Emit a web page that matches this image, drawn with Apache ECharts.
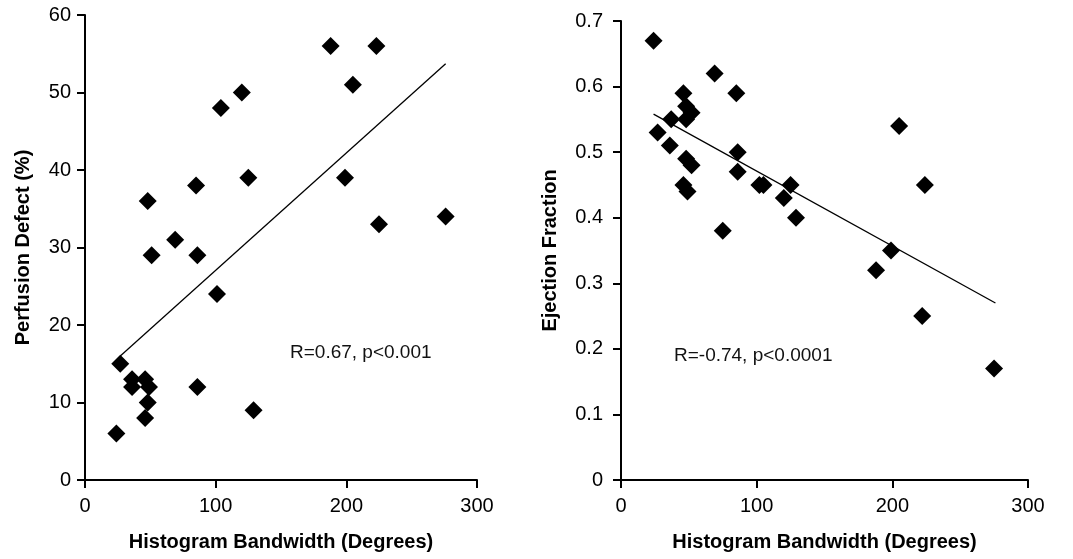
<!DOCTYPE html>
<html>
<head>
<meta charset="utf-8">
<script src="https://cdn.jsdelivr.net/npm/echarts@6/dist/echarts.min.js"></script>
<style>
  html, body { margin: 0; padding: 0; background: #fff; }
  #main { width: 1073px; height: 559px; }
</style>
</head>
<body>
<div id="main"></div>
<script>
  // left panel: bandwidth vs perfusion defect
  var perfusionPoints = [
    [188, 56], [223, 56], [205, 51], [104, 48], [120, 50], [85, 38], [125, 39],
    [48, 36], [199, 39], [225, 33], [276, 34], [69, 31], [51, 29], [86, 29],
    [101, 24], [27, 15], [36, 13], [36, 12], [46, 13], [49, 12], [48, 10],
    [46, 8], [24, 6], [86, 12], [129, 9]
  ];
  var perfusionTrend = [[27, 16], [276, 53.7]];

  // right panel: bandwidth vs ejection fraction
  var ejectionPoints = [
    [24, 0.67], [69, 0.62], [85, 0.59], [46, 0.59], [48, 0.57], [52, 0.56],
    [48, 0.55], [37, 0.55], [27, 0.53], [36, 0.51], [86, 0.50], [48, 0.49],
    [52, 0.48], [86, 0.47], [46, 0.45], [49, 0.44], [102, 0.45], [105, 0.45],
    [125, 0.45], [120, 0.43], [129, 0.40], [75, 0.38], [205, 0.54], [224, 0.45],
    [199, 0.35], [188, 0.32], [222, 0.25], [275, 0.17]
  ];
  var ejectionTrend = [[24, 0.558], [276, 0.27]];

  var xTitle = 'Histogram Bandwidth (Degrees)';
  var font = 'Liberation Sans, Arial, sans-serif';

  function xAxisFor(idx) {
    return {
      gridIndex: idx, type: 'value', min: 0, max: 300, interval: 100,
      name: xTitle, nameLocation: 'middle', nameGap: 52,
      nameTextStyle: { fontFamily: font, fontSize: 20, fontWeight: 'bold', color: '#000' },
      axisLine: { lineStyle: { color: '#000', width: 2 } },
      axisTick: { length: 8, lineStyle: { color: '#000', width: 2 } },
      axisLabel: { margin: 16, fontFamily: font, fontSize: 20, color: '#000' },
      splitLine: { show: false }
    };
  }

  function yAxisFor(idx, name, max, step, gap, margin) {
    return {
      gridIndex: idx, type: 'value', min: 0, max: max, interval: step,
      name: name, nameLocation: 'middle', nameGap: gap,
      nameTextStyle: { fontFamily: font, fontSize: 20, fontWeight: 'bold', color: '#000' },
      axisLine: { show: true, lineStyle: { color: '#000', width: 2 } },
      axisTick: { show: true, length: 8, lineStyle: { color: '#000', width: 2 } },
      axisLabel: { margin: margin, fontFamily: font, fontSize: 20, color: '#000' },
      splitLine: { show: false }
    };
  }

  var chart = echarts.init(document.getElementById('main'));
  chart.setOption({
    animation: false,
    backgroundColor: '#fff',
    grid: [
      { left: 85, top: 15, width: 392, height: 465 },
      { left: 621, top: 21, width: 407, height: 459 }
    ],
    xAxis: [xAxisFor(0), xAxisFor(1)],
    yAxis: [
      yAxisFor(0, 'Perfusion Defect (%)', 60, 10, 52, 14),
      yAxisFor(1, 'Ejection Fraction', 0.7, 0.1, 61, 18)
    ],
    graphic: [
      { type: 'text', left: 290, top: 343,
        style: { text: 'R=0.67, p<0.001', fontFamily: font, fontSize: 19, fill: '#111' } },
      { type: 'text', left: 674, top: 346,
        style: { text: 'R=-0.74, p<0.0001', fontFamily: font, fontSize: 19, fill: '#111' } }
    ],
    series: [
      { type: 'scatter', xAxisIndex: 0, yAxisIndex: 0, data: perfusionPoints,
        symbol: 'diamond', symbolSize: 18, itemStyle: { color: '#000', opacity: 1 } },
      { type: 'line', xAxisIndex: 0, yAxisIndex: 0, data: perfusionTrend,
        symbol: 'none', lineStyle: { color: '#000', width: 1.3 } },
      { type: 'scatter', xAxisIndex: 1, yAxisIndex: 1, data: ejectionPoints,
        symbol: 'diamond', symbolSize: 18, itemStyle: { color: '#000', opacity: 1 } },
      { type: 'line', xAxisIndex: 1, yAxisIndex: 1, data: ejectionTrend,
        symbol: 'none', lineStyle: { color: '#000', width: 1.3 } }
    ]
  });
</script>
</body>
</html>
